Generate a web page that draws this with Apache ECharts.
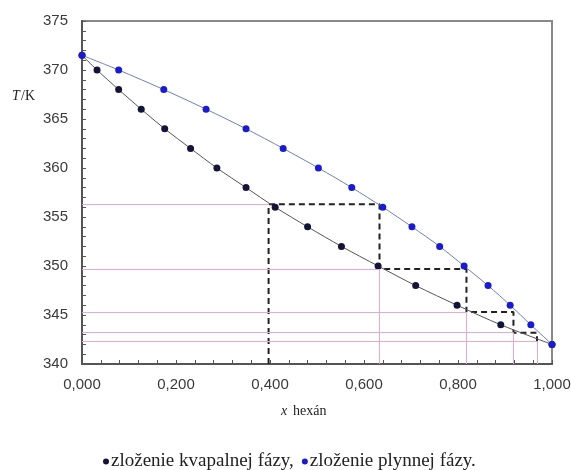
<!DOCTYPE html>
<html>
<head>
<meta charset="utf-8">
<script src="https://cdn.jsdelivr.net/npm/echarts@6/dist/echarts.min.js"></script>
<style>
  html, body { margin: 0; padding: 0; background: #fff; }
  #chart { width: 571px; height: 470px; }
</style>
</head>
<body>
<div id="chart"></div>
<script>
// zlozenie kvapalnej fazy (x, T)
var liquidX = [0.000, 0.032, 0.078, 0.126, 0.176, 0.231, 0.287, 0.349, 0.411, 0.480, 0.552, 0.630, 0.710, 0.798, 0.891, 1.000];
var liquidT = [371.5, 370, 368, 366, 364, 362, 360, 358, 356, 354, 352, 350, 348, 346, 344, 342];
// zlozenie plynnej fazy (y, T)
var vaporX = [0.000, 0.078, 0.174, 0.264, 0.349, 0.428, 0.503, 0.574, 0.640, 0.702, 0.761, 0.813, 0.864, 0.911, 0.955, 1.000];
var vaporT = [371.5, 370, 368, 366, 364, 362, 360, 358, 356, 354, 352, 350, 348, 346, 344, 342];
// schody (ciarkovane)
var stepX = [0.397, 0.397, 0.633, 0.633, 0.818, 0.818, 0.918, 0.918, 0.968, 0.968];
var stepT = [340, 356.3, 356.3, 349.7, 349.7, 345.3, 345.3, 343.2, 343.2, 342.3];
// pomocne ruzove ciary
var tieX = [0.397, 0.633, 0.818, 0.918, 0.968];
var tieT = [356.3, 349.7, 345.3, 343.2, 342.3];
var yTicks = [340, 345, 350, 355, 360, 365, 370, 375];

function pairs(xs, ys) {
  var out = [];
  for (var i = 0; i < xs.length; i++) out.push([xs[i], ys[i]]);
  return out;
}

var pinkLines = [];
for (var i = 0; i < tieX.length; i++) {
  pinkLines.push([{ coord: [0, tieT[i]] }, { coord: [tieX[i], tieT[i]] }]);
  if (i > 0) {
    pinkLines.push([{ coord: [tieX[i], 340] }, { coord: [tieX[i], tieT[i]] }]);
  }
}

var chart = echarts.init(document.getElementById('chart'));
var labelFont = { fontFamily: 'Liberation Sans', fontSize: 15, color: '#3a3a3a' };

chart.setOption({
  animation: false,
  backgroundColor: '#fff',
  grid: {
    left: 82, right: 19, top: 21, bottom: 106,
    outerBoundsMode: 'none', containLabel: false,
    show: true, borderColor: '#888', borderWidth: 2
  },
  xAxis: {
    type: 'value', min: 0, max: 1, interval: 0.2,
    axisLine: { show: true, onZero: false, lineStyle: { color: '#555', width: 2 } },
    axisTick: { show: true, inside: true, length: 4, lineStyle: { color: '#555' } },
    minorTick: { show: true, splitNumber: 5, length: 4, lineStyle: { color: '#555' } },
    splitLine: { show: false },
    axisLabel: Object.assign({ margin: 13, formatter: function (v) { return v.toFixed(3).replace('.', ','); } }, labelFont)
  },
  yAxis: {
    type: 'value', min: yTicks[0], max: yTicks[yTicks.length - 1], interval: 5,
    axisLine: { show: true, onZero: false, lineStyle: { color: '#555', width: 2 } },
    axisTick: { show: true, inside: true, length: 4, lineStyle: { color: '#555' } },
    minorTick: { show: true, splitNumber: 5, length: 4, lineStyle: { color: '#555' } },
    splitLine: { show: false },
    axisLabel: Object.assign({ margin: 14 }, labelFont)
  },
  legend: {
    top: 447, left: 98,
    icon: 'circle', itemWidth: 6, itemHeight: 6, itemGap: 8,
    textStyle: { fontFamily: '"Liberation Serif", serif', fontSize: 19, color: '#222', padding: [0, 0, 0, -3] },
    data: ['zloženie kvapalnej fázy,', 'zloženie plynnej fázy.']
  },
  graphic: [
    { type: 'text', left: 12, top: 89, style: { text: 'T', font: 'italic 14px "Liberation Serif"', fill: '#222' } },
    { type: 'text', left: 21, top: 89, style: { text: '/K', font: '14px "Liberation Serif"', fill: '#222' } },
    { type: 'text', left: 281, top: 404, style: { text: 'x', font: 'italic 14px "Liberation Serif"', fill: '#222' } },
    { type: 'text', left: 293, top: 404, style: { text: 'hexán', font: '14px "Liberation Serif"', fill: '#222' } }
  ],
  series: [
    {
      name: 'pink', type: 'line', data: [], silent: true,
      markLine: {
        silent: true, symbol: 'none', animation: false,
        label: { show: false },
        lineStyle: { color: '#e8a8d8', width: 1, type: 'solid' },
        data: pinkLines
      }
    },
    {
      name: 'steps', type: 'line', data: pairs(stepX, stepT), showSymbol: false, symbol: 'none',
      lineStyle: { color: '#222', width: 2, type: [6, 4] }, z: 3
    },
    {
      name: 'zloženie kvapalnej fázy,', type: 'line', data: pairs(liquidX, liquidT), smooth: 0.3,
      symbol: 'circle', symbolSize: 7,
      itemStyle: { color: '#141438' },
      lineStyle: { color: '#555', width: 1 }, z: 4
    },
    {
      name: 'zloženie plynnej fázy.', type: 'line', data: pairs(vaporX, vaporT), smooth: 0.3,
      symbol: 'circle', symbolSize: 7,
      itemStyle: { color: '#1a1ad0' },
      lineStyle: { color: '#6f7fbf', width: 1 }, z: 5
    }
  ]
});
</script>
</body>
</html>
